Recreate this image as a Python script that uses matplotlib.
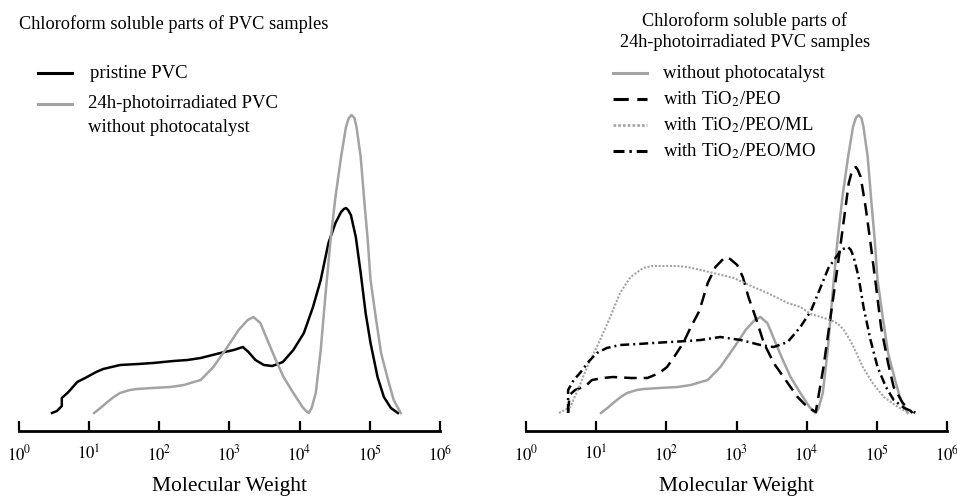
import numpy as np
import matplotlib
matplotlib.use("Agg")
import matplotlib.pyplot as plt
from matplotlib.lines import Line2D

plt.rcParams["font.family"] = ["Liberation Serif", "DejaVu Serif"]
plt.rcParams["mathtext.fontset"] = "stix"

# ---- data: log10(MW) and signal height (arbitrary units)
pristine_log = [0.47, 0.54, 0.61, 0.61, 0.69, 0.73, 0.83, 0.97, 1.1, 1.2, 1.44, 1.7, 1.91, 2.2,
                2.4, 2.59, 2.87, 3.06, 3.19, 3.27, 3.37, 3.49, 3.61, 3.76, 3.91, 4.06, 4.19,
                4.3, 4.41, 4.51, 4.59, 4.63, 4.66, 4.69, 4.73, 4.8, 4.87, 4.94, 5.01, 5.11,
                5.2, 5.3, 5.4]
pristine_h = [0, 2, 7, 15, 20, 23, 31, 36, 41, 44, 48, 49, 50, 52,
              53, 55, 60, 63, 66, 61, 53, 48, 47, 51, 63, 80, 106,
              133, 170, 190, 201, 204, 205, 203, 198, 176, 140, 100, 70, 36,
              16, 5, 0]

irrad_log = [1.07, 1.16, 1.26, 1.35, 1.44, 1.58, 1.68, 1.9, 2.16, 2.35, 2.49, 2.59, 2.77, 2.97,
             3.13, 3.26, 3.34, 3.44, 3.54, 3.66, 3.77, 3.91, 4.04, 4.09, 4.13, 4.17, 4.23, 4.3,
             4.37, 4.44, 4.51, 4.59, 4.66, 4.7, 4.74, 4.78, 4.81, 4.87, 4.92, 4.97, 5.01, 5.09,
             5.16, 5.26, 5.34, 5.44]
irrad_h = [0, 5, 11, 16, 20, 23, 24, 25, 26, 28, 31, 33, 46, 66,
           83, 93, 96, 90, 73, 53, 36, 20, 6, 2, 0, 5, 20, 63,
           120, 173, 216, 256, 286, 295, 298, 295, 286, 256, 213, 173, 133, 93,
           60, 33, 13, 0]

peo_log = [0.6, 0.62, 0.7, 0.85, 0.94, 1.1, 1.24, 1.5, 1.73, 1.9, 2.01, 2.12, 2.24, 2.35, 2.47,
           2.59, 2.7, 2.81, 2.86, 2.91, 3.01, 3.09, 3.17, 3.27, 3.39, 3.53, 3.7, 3.87, 4.01,
           4.13, 4.24, 4.34, 4.44, 4.53, 4.6, 4.65, 4.7, 4.73, 4.77, 4.84, 4.91, 4.99, 5.06,
           5.16, 5.24, 5.37, 5.51]
peo_h = [0, 18, 23, 27, 33, 35, 36, 35, 35, 40, 46, 57, 70, 86, 102,
         130, 146, 154, 156, 154, 148, 136, 116, 96, 70, 50, 33, 16, 6,
         1, 46, 96, 146, 193, 230, 243, 246, 243, 236, 206, 170, 126, 86,
         50, 26, 10, 0]

ml_log = [0.47, 0.55, 0.63, 0.75, 0.87, 1.01, 1.1, 1.2, 1.34, 1.49, 1.67, 1.8, 1.96, 2.15, 2.3,
          2.49, 2.67, 2.96, 3.24, 3.44, 3.73, 3.91, 4.06, 4.2, 4.34, 4.45, 4.53, 4.6, 4.67,
          4.8, 4.94, 5.1, 5.3, 5.46]
ml_h = [0, 3, 6, 25, 46, 66, 80, 96, 120, 136, 145, 147, 147, 147, 146,
        143, 140, 135, 126, 120, 110, 106, 99, 96, 93, 89, 83, 75, 66,
        46, 30, 16, 6, 0]

mo_log = [0.6, 0.6, 0.68, 0.77, 0.9, 1.01, 1.15, 1.34, 1.6, 1.81, 2.05, 2.3, 2.49, 2.77, 3.06,
          3.34, 3.53, 3.73, 3.91, 4.06, 4.2, 4.31, 4.39, 4.49, 4.55, 4.59, 4.63, 4.67, 4.74,
          4.81, 4.91, 5.01, 5.13, 5.24, 5.39, 5.56]
mo_h = [0, 23, 33, 40, 52, 60, 65, 68, 69, 70, 71, 72, 73, 76, 73,
        68, 66, 71, 86, 102, 126, 145, 153, 163, 165, 166, 163, 156, 136,
        106, 73, 46, 26, 13, 5, 0]

tick_exp = [0, 1, 2, 3, 4, 5, 6]

GRAY = "#a3a3a3"
styles = {
    "pristine": dict(color="black", lw=1.8, ls="-"),
    "irrad": dict(color=GRAY, lw=1.8, ls="-"),
    "peo": dict(color="black", lw=1.8, ls=(0, (5.0, 2.8))),
    "ml": dict(color=GRAY, lw=1.5, ls=(0, (1.0, 0.8))),
    "mo": dict(color="black", lw=1.8, ls=(0, (3.6, 1.6, 0.8, 1.6))),
}

W, H = 957, 496
fig = plt.figure(figsize=(W / 100, H / 100), dpi=100)


def make_axes(left_px):
    ax = fig.add_axes([left_px / W, (H - 431) / H, 421 / W, 331 / H])
    ax.set_xscale("log")
    ax.set_xlim(1, 1e6)
    ax.set_ylim(-18, 313)
    for s in ["top", "right", "left"]:
        ax.spines[s].set_visible(False)
    ax.spines["bottom"].set_linewidth(2.0)
    ax.set_yticks([])
    ax.set_xticks([10.0 ** e for e in tick_exp])
    ax.set_xticklabels([rf"$10^{{{e}}}$" for e in tick_exp])
    ax.xaxis.set_minor_locator(matplotlib.ticker.NullLocator())
    ax.tick_params(axis="x", direction="in", length=7, width=1.6, pad=10, labelsize=12)
    ax.set_xlabel("Molecular Weight", fontsize=15.5, labelpad=9)
    return ax


def plot_curve(ax, logs, h, key):
    ax.plot(10 ** np.array(logs), h, solid_joinstyle="round", dash_joinstyle="round",
            **styles[key])


def draw_legend(entries, x_px, y_px, gap_px, text_x_px):
    for i, (st, label) in enumerate(entries):
        y = 1 - (y_px + i * gap_px) / H
        fig.add_artist(Line2D([x_px / W, (x_px + 34) / W], [y, y], transform=fig.transFigure,
                              color=st["color"], lw=st["lw"] + 0.4, ls=st["ls"]))
        fig.text(text_x_px / W, y, label, fontsize=13.5, va="center", ha="left")


ax1 = make_axes(19)
plot_curve(ax1, pristine_log, pristine_h, "pristine")
plot_curve(ax1, irrad_log, irrad_h, "irrad")
fig.text(19 / W, 1 - 24 / H, "Chloroform soluble parts of PVC samples", fontsize=13.2, va="center")
draw_legend([(styles["pristine"], "pristine PVC")], 38, 73, 0, 90)
draw_legend([(styles["irrad"], "24h-photoirradiated PVC")], 38, 104, 0, 88)
fig.text(88 / W, 1 - 128 / H, "without photocatalyst", fontsize=13.5, va="center")

ax2 = make_axes(526)
plot_curve(ax2, irrad_log, irrad_h, "irrad")
plot_curve(ax2, peo_log, peo_h, "peo")
plot_curve(ax2, ml_log, ml_h, "ml")
plot_curve(ax2, mo_log, mo_h, "mo")
fig.text(745 / W, 1 - 32 / H, "Chloroform soluble parts of\n24h-photoirradiated PVC samples",
         fontsize=13.2, ha="center", va="center", linespacing=1.3)
draw_legend([(styles["irrad"], "without photocatalyst"),
             (styles["peo"], r"with TiO$_2$/PEO"),
             (styles["ml"], r"with TiO$_2$/PEO/ML"),
             (styles["mo"], r"with TiO$_2$/PEO/MO")], 613, 73, 26, 663)

fig.savefig("out.png", dpi=100)
